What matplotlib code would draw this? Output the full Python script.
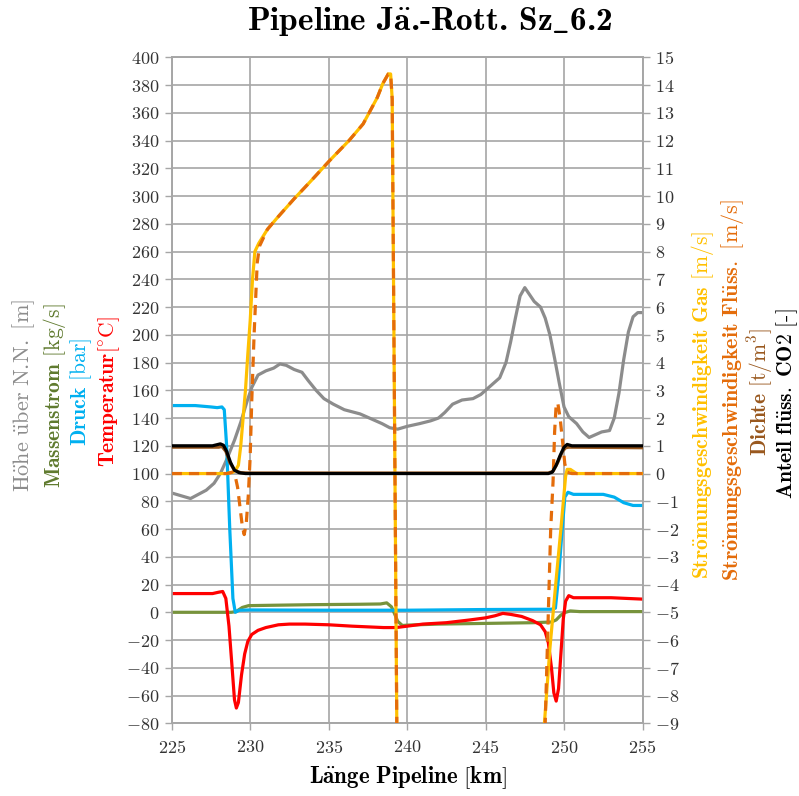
import numpy as np
import matplotlib
matplotlib.use("Agg")
import matplotlib.pyplot as plt

plt.rcParams['font.family'] = ['cmr10', 'DejaVu Serif']
plt.rcParams['mathtext.fontset'] = 'cm'
plt.rcParams['axes.unicode_minus'] = False
plt.rcParams['axes.formatter.use_mathtext'] = True

# ---------------- data ----------------
hoehe_km = [225.0, 225.6, 226.2, 226.7, 227.2, 227.7, 228.1, 228.5, 229.0, 229.4, 229.8, 230.1, 230.5,
            231.0, 231.5, 231.9, 232.3, 232.8, 233.3, 233.7, 234.2, 234.7, 235.3, 236.0, 237.0, 237.8,
            238.4, 238.9, 239.4, 240.0, 240.8, 241.5, 242.0, 242.4, 242.9, 243.5, 244.2, 244.7, 245.3,
            245.9, 246.3, 246.6, 246.9, 247.2, 247.5, 247.8, 248.1, 248.5, 248.8, 249.1, 249.4, 249.7,
            250.0, 250.3, 250.8, 251.2, 251.6, 252.0, 252.4, 252.9, 253.2, 253.5, 253.8, 254.1, 254.4,
            254.7, 255.0]
hoehe_m = [86, 84, 82, 85, 88, 93, 100, 110, 124, 137, 152, 162, 171,
           174, 176, 179, 178, 175, 173, 167, 160, 154, 150, 146, 143, 139,
           136, 133, 132, 134, 136, 138, 140, 144, 150, 153, 154, 157, 163,
           169, 180, 195, 212, 228, 234, 229, 224, 220, 212, 200, 183, 165,
           148, 141, 136, 130, 126, 128, 130, 131, 140, 158, 182, 202, 213,
           216, 216]

mstrom_km = [225.0, 228.8, 229.1, 229.5, 229.9, 231.0, 234.0, 237.0, 238.3, 238.7, 239.0, 239.2, 239.4,
             239.7, 240.1, 242.0, 245.0, 248.0, 249.2, 249.5, 249.8, 250.1, 250.4, 251.0, 255.0]
mstrom_kgs = [0, 0, 0.5, 3.5, 4.8, 5, 5.5, 5.8, 6, 6.8, 4, -1, -6.5,
              -9.5, -9.2, -8.5, -8, -7.5, -7, -5.5, -2, 0, 1, 0.5, 0.5]

druck_km = [225.0, 226.5, 227.5, 227.9, 228.2, 228.35, 228.5, 228.7, 228.9, 229.05, 229.3, 230.0, 235.0,
            240.0, 245.0, 249.2, 249.45, 249.65, 249.85, 250.05, 250.25, 250.6, 251.5, 252.5, 253.2,
            253.8, 254.4, 255.0]
druck_bar = [149, 149, 148, 147.5, 148, 146, 120, 60, 10, 0, 1.5, 1.7, 1.5,
             1.5, 2, 2.2, 3, 25, 55, 83, 86.5, 85, 85, 85, 83,
             79, 77, 77]

temp_km = [225.0, 227.6, 228.0, 228.25, 228.45, 228.65, 228.85, 229.0, 229.12, 229.25, 229.45, 229.65,
           229.85, 230.1, 230.5, 231.0, 231.8, 232.5, 233.5, 235.0, 236.5, 237.5, 238.5, 239.3, 240.0,
           241.0, 242.5, 244.0, 245.0, 245.6, 246.1, 246.6, 247.3, 248.0, 248.5, 248.8, 249.0, 249.2,
           249.35, 249.5, 249.65, 249.8, 249.95, 250.1, 250.3, 250.6, 251.5, 253.0, 255.0]
temp_c = [13.5, 13.5, 14.5, 15, 10, -10, -40, -63, -69, -65, -45, -30,
          -21, -16, -13, -11, -9, -8.5, -8.5, -9, -10, -10.5, -11, -11, -10,
          -8.5, -7.5, -5.5, -4, -2.5, -0.8, -1.5, -3, -6, -9, -14, -22, -40,
          -58, -64, -55, -30, -5, 8, 12, 10.5, 10.5, 10.5, 9.5]

gas_km = [225.0, 228.5, 228.9, 229.1, 229.25, 229.4, 229.55, 229.7, 229.85, 230.0, 230.15, 230.3, 230.55,
          231.1, 231.7, 232.8, 233.8, 235.1, 236.3, 237.2, 238.1, 238.45, 238.8, 238.95, 239.05, 239.35,
          239.4, 244.0, 248.7, 248.75, 249.1, 249.5, 249.8, 250.1, 250.2, 250.4, 250.8, 255.0]
gas_ms = [0, 0, 0.05, 0.15, 0.3, 1.0, 2.0, 3.0, 4.3, 5.5, 7.0, 8.0, 8.3,
          8.8, 9.2, 9.9, 10.5, 11.3, 12.0, 12.6, 13.55, 14.05, 14.4, 14.4, 13.5, -9.5,
          -30, np.nan, -30, -9, -6.3, -3.8, -2.0, -0.1, 0.15, 0.15, 0, 0]

fl_km = [225.0, 228.5, 228.9, 229.05, 229.2, 229.35, 229.5, 229.62, 229.75, 229.88, 230.0, 230.1, 230.25,
         230.45, 230.6, 231.1, 231.7, 232.8, 233.8, 235.1, 236.3, 237.2, 238.1, 238.45, 238.8, 238.95,
         239.05, 239.35, 239.4, 244.0, 248.7, 248.8, 249.0, 249.15, 249.3, 249.4, 249.5, 249.6, 249.75,
         249.9, 250.05, 250.2, 250.5, 255.0]
fl_ms = [0, 0, 0.05, -0.1, -0.5, -1.2, -1.9, -2.2, -1.8, -0.8, 0.6, 2.6, 5.0,
         7.6, 8.2, 8.8, 9.2, 9.9, 10.5, 11.3, 12.0, 12.6, 13.55, 14.05, 14.4, 14.4,
         13.5, -9.5, -30, np.nan, -30, -9, -5, -2, -0.3, 1.5, 2.5, 2.55, 2.0,
         1.2, 0.35, 0.05, 0, 0]

dichte_km = [225.0, 228.0, 228.2, 228.45, 228.7, 229.0, 229.4, 230.0, 249.0, 249.3, 249.6, 249.9, 250.1,
             250.3, 255.0]
dichte_tm3 = [0.95, 0.95, 0.98, 0.8, 0.4, 0.12, 0.03, 0.02, 0.02, 0.08, 0.4, 0.8, 0.93,
              0.95, 0.93]

anteil_km = [225.0, 227.6, 228.1, 228.3, 228.5, 228.75, 229.0, 229.3, 229.7, 249.0, 249.25, 249.5, 249.75,
             250.0, 250.2, 250.5, 255.0]
anteil = [1.0, 1.0, 1.07, 1.02, 0.8, 0.4, 0.12, 0.03, 0.0, 0.0, 0.05, 0.3, 0.65,
          0.95, 1.05, 1.0, 1.0]

x_ticks = [225, 230, 235, 240, 245, 250, 255]
left_ticks = list(range(-80, 401, 20))
right_ticks = list(range(-9, 16, 1))

# ---------------- colours ----------------
C_HOEHE = '#8c8c8c'
C_MASSE = '#77933C'
C_DRUCK = '#00B0F0'
C_TEMP = '#FF0000'
C_GAS = '#FFC000'
C_FL = '#E46C0A'
C_DICHTE = '#99581E'
C_ANTEIL = '#000000'
GRID = '#a6a6a6'

W, H = 799, 796
fig = plt.figure(figsize=(W / 100, H / 100), dpi=100)
ax = fig.add_axes([171.7 / W, 1 - 723.3 / H, (642.5 - 171.7) / W, (723.3 - 57.3) / H])
ax2 = ax.twinx()

lw = 2.3
ax.plot(hoehe_km, hoehe_m, color=C_HOEHE, lw=lw, zorder=3)
ax.plot(mstrom_km, mstrom_kgs, color=C_MASSE, lw=lw, zorder=4)
ax.plot(druck_km, druck_bar, color=C_DRUCK, lw=lw, zorder=5)
ax.plot(temp_km, temp_c, color=C_TEMP, lw=lw, zorder=6)

ax2.plot(gas_km, gas_ms, color=C_GAS, lw=lw, zorder=3)
ax2.plot(fl_km, fl_ms, color=C_FL, lw=lw, ls=(0, (3.2, 2.2)), zorder=4)
ax2.plot(dichte_km, dichte_tm3, color=C_DICHTE, lw=lw, zorder=5)
ax2.plot(anteil_km, anteil, color=C_ANTEIL, lw=lw, zorder=6)

ax.set_xlim(225, 255)
ax.set_ylim(-80, 400)
ax2.set_ylim(-9, 15)
ax.set_xticks(x_ticks)
ax.set_yticks(left_ticks)
ax2.set_yticks(right_ticks)

ax.grid(True, color=GRID, lw=1.2)
ax.set_axisbelow(True)
for a in (ax, ax2):
    for s in a.spines.values():
        s.set_color(GRID)
        s.set_linewidth(1.2)
TS = 13
ax.tick_params(axis='both', direction='out', length=5, width=1.0, color=GRID, labelsize=TS,
               labelcolor='#333333', pad=4)
ax.tick_params(axis='x', length=5, pad=6)
ax2.tick_params(axis='y', direction='out', length=5, width=1.0, color=GRID, labelsize=TS,
                labelcolor='#333333', pad=4)

fig.text(430 / W, 1 - 22 / H, 'Pipeline J' + r'$\mathbf{\ddot{a}}$' + '.-Rott. Sz' + r'$\_$' + '6.2',
         ha='center', va='center', fontsize=24, family=['cmb10', 'DejaVu Serif'])
fig.text(407.5 / W, 1 - 778 / H, r'$\mathbf{L\ddot{a}nge\ Pipeline\ [km]}$', ha='center', va='center',
         fontsize=16.5)

LS = 15.5
left_labels = [
    (24, 395, 16, r'$\mathrm{H\ddot{o}he\ \ddot{u}ber\ N.\!N.\ [m]}$', C_HOEHE),
    (54, 396, LS, r'$\mathbf{Massenstrom}$ [kg/s]', '#5f7a2e'),
    (81, 392, LS, r'$\mathbf{Druck}$ [bar]', C_DRUCK),
    (109, 392, LS, r'$\mathbf{Temperatur}$[$^{\circ}$C]', C_TEMP),
]
for px, py, fs, txt, col in left_labels:
    fig.text(px / W, 1 - py / H, txt, rotation=90, ha='center', va='center', fontsize=fs, color=col)

right_labels = [
    (702, 405, LS, r'$\mathbf{Str\ddot{o}mungsgeschwindigkeit\ Gas}$ [m/s]', C_GAS),
    (732, 390, 16, r'$\mathbf{Str\ddot{o}mungsgeschwindigkeit\ Fl\ddot{u}ss.}$ [m/s]', C_FL),
    (760, 392, LS, r'$\mathbf{Dichte}$ [t/m$^3$]', C_DICHTE),
    (787, 404, LS, r'$\mathbf{Anteil\ fl\ddot{u}ss.\ CO2}$ [-]', C_ANTEIL),
]
for px, py, fs, txt, col in right_labels:
    fig.text(px / W, 1 - py / H, txt, rotation=90, ha='center', va='center', fontsize=fs, color=col)

fig.savefig('out.png', dpi=100)
